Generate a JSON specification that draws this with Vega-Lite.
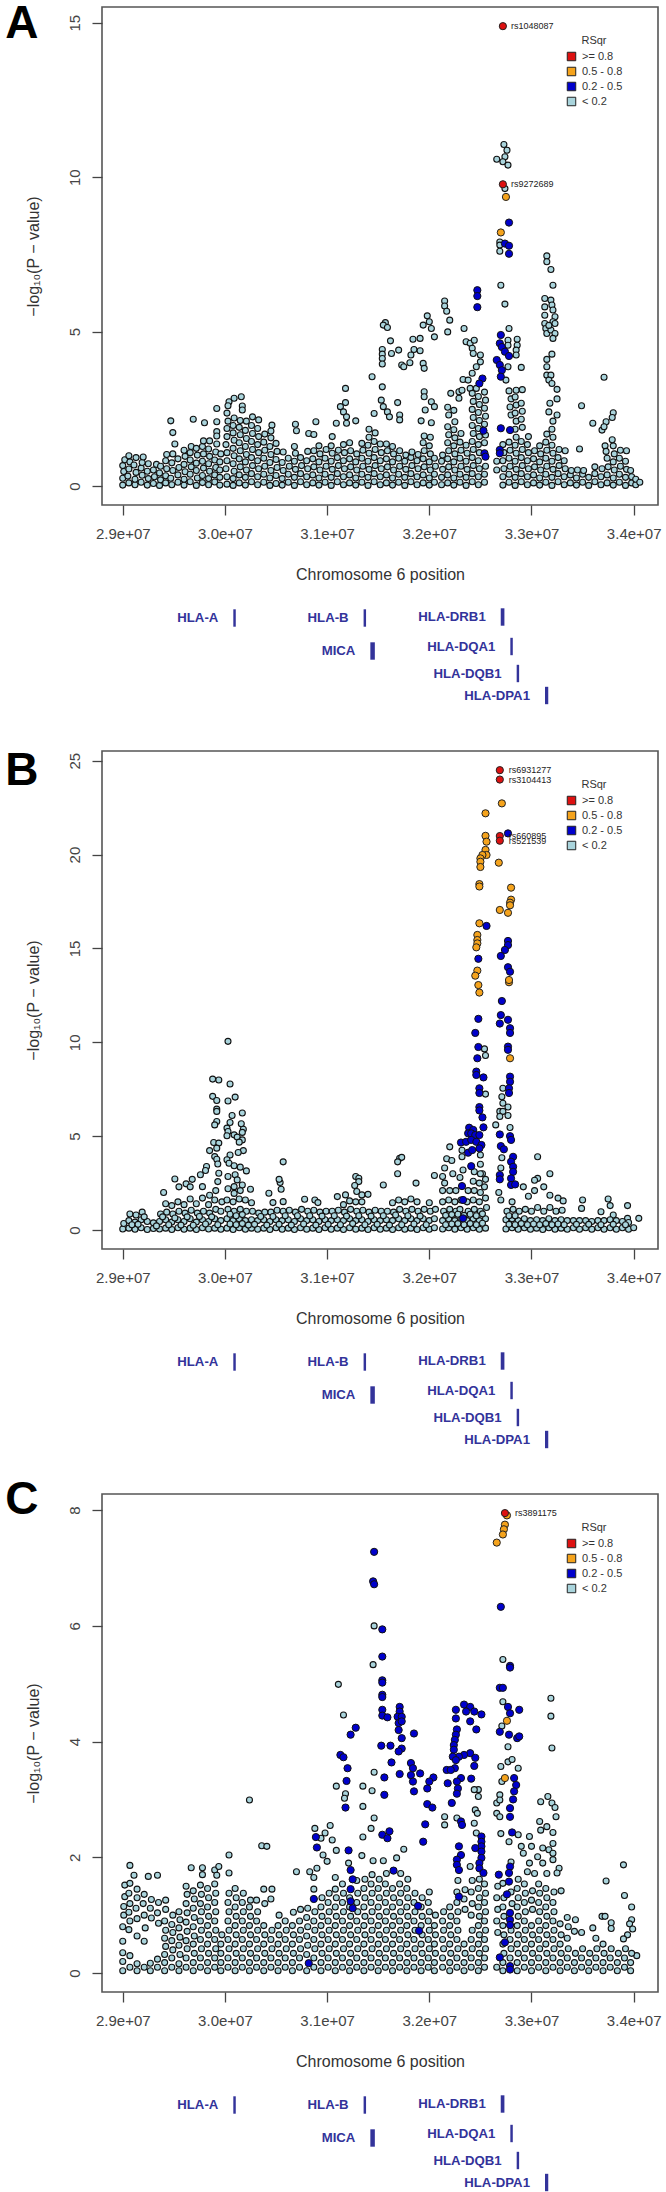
{"$schema":"https://vega.github.io/schema/vega-lite/v6.json","padding":{"left":4,"top":0,"right":0,"bottom":0},"background":"white","bounds":"flush","spacing":0,"config":{"font":"Liberation Sans","axis":{"grid":false,"domain":false,"tickSize":10,"tickWidth":1.3,"tickColor":"#444","labelColor":"#444","titleColor":"#333","labelFontSize":15,"titleFontSize":16,"titleFontWeight":"normal"}},"resolve":{"scale":{"color":"independent"},"legend":{"color":"independent"}},
"datasets":{
"genes":[{"g":"HLA-A","s":30.082,"e":30.106,"t":104.3,"b":121.7,"m":113},{"g":"HLA-B","s":31.357,"e":31.381,"t":104.3,"b":121.7,"m":113},{"g":"HLA-DRB1","s":32.699,"e":32.735,"t":103.3,"b":120.7,"m":112},{"g":"MICA","s":31.423,"e":31.467,"t":137.3,"b":154.7,"m":146},{"g":"HLA-DQA1","s":32.793,"e":32.817,"t":132.8,"b":150.2,"m":141.5},{"g":"HLA-DQB1","s":32.855,"e":32.879,"t":159.8,"b":177.2,"m":168.5},{"g":"HLA-DPA1","s":33.132,"e":33.164,"t":181.8,"b":199.2,"m":190.5}],
"aR":[{"x":32.72,"y":14.89,"id":"rs1048087"},{"x":32.72,"y":9.77,"id":"rs9272689"}],
"aO":[{"x":32.75,"y":9.36},{"x":32.70,"y":8.21}],
"aB":[{"x":32.78,"y":8.53},{"x":32.74,"y":7.85},{"x":32.78,"y":7.78},{"x":32.78,"y":7.52},{"x":32.47,"y":6.34},{"x":32.47,"y":6.15},{"x":32.47,"y":5.79},{"x":32.70,"y":4.89},{"x":32.69,"y":4.62},{"x":32.71,"y":4.5},{"x":32.74,"y":4.35},{"x":32.78,"y":4.21},{"x":32.66,"y":4.08},{"x":32.69,"y":3.92},{"x":32.71,"y":3.75},{"x":32.70,"y":3.54},{"x":32.52,"y":3.48},{"x":32.49,"y":3.32},{"x":32.53,"y":1.79},{"x":32.70,"y":1.87},{"x":32.79,"y":1.81},{"x":32.54,"y":1.06},{"x":32.55,"y":0.95},{"x":32.69,"y":1.17},{"x":32.69,"y":1.06}],
"aL":[{"x":32.73,"y":11.06},{"x":32.76,"y":10.87},{"x":32.66,"y":10.58},{"x":32.74,"y":10.66},{"x":32.72,"y":10.5},{"x":32.77,"y":10.39},{"x":32.69,"y":7.9},{"x":32.69,"y":7.8},{"x":32.69,"y":7.6},{"x":32.70,"y":6.5},{"x":32.74,"y":5.89},{"x":32.74,"y":9.63},{"x":33.15,"y":7.45},{"x":33.15,"y":7.26},{"x":33.19,"y":7.01},{"x":33.21,"y":6.5},{"x":33.13,"y":6.07},{"x":33.19,"y":6.02},{"x":33.2,"y":5.86},{"x":33.21,"y":5.7},{"x":33.23,"y":5.48},{"x":33.13,"y":5.8},{"x":33.13,"y":5.53},{"x":33.13,"y":5.26},{"x":33.21,"y":5.32},{"x":33.14,"y":5.1},{"x":33.15,"y":4.94},{"x":33.19,"y":5.05},{"x":33.23,"y":4.94},{"x":33.21,"y":4.78},{"x":33.17,"y":5.2},{"x":33.23,"y":5.26},{"x":33.2,"y":4.27},{"x":33.15,"y":4.1},{"x":33.15,"y":3.86},{"x":33.15,"y":3.59},{"x":33.19,"y":3.59},{"x":33.17,"y":3.43},{"x":33.2,"y":3.32},{"x":33.25,"y":3.13},{"x":33.25,"y":2.82},{"x":33.18,"y":2.68},{"x":33.17,"y":2.4},{"x":33.25,"y":2.3},{"x":33.71,"y":3.52},{"x":33.49,"y":2.6},{"x":33.6,"y":2.03},{"x":33.8,"y":2.37},{"x":33.79,"y":2.22},{"x":33.73,"y":2.08},{"x":33.69,"y":1.81},{"x":33.71,"y":1.92},{"x":32.78,"y":5.1},{"x":32.86,"y":4.75},{"x":32.86,"y":4.56},{"x":32.85,"y":4.4},{"x":32.85,"y":4.24},{"x":32.77,"y":4.72},{"x":32.77,"y":4.56},{"x":32.77,"y":3.86},{"x":32.9,"y":3.84},{"x":32.75,"y":3.43},{"x":31.18,"y":3.16},{"x":31.18,"y":2.7},{"x":31.13,"y":2.57},{"x":31.16,"y":2.4},{"x":31.19,"y":2.24},{"x":31.19,"y":2.03},{"x":31.28,"y":2.11},{"x":31.44,"y":3.54},{"x":31.54,"y":3.21},{"x":31.53,"y":2.78},{"x":31.55,"y":2.57},{"x":31.59,"y":2.4},{"x":31.61,"y":2.24},{"x":31.69,"y":2.7},{"x":31.71,"y":2.3},{"x":31.71,"y":2.14},{"x":31.46,"y":2.35},{"x":31.57,"y":5.29},{"x":31.55,"y":5.21},{"x":31.59,"y":5.13},{"x":31.54,"y":4.42},{"x":31.54,"y":4.27},{"x":31.54,"y":4.13},{"x":31.54,"y":3.95},{"x":31.62,"y":4.7},{"x":31.63,"y":4.29},{"x":31.7,"y":4.4},{"x":31.73,"y":3.92},{"x":31.75,"y":3.86},{"x":31.81,"y":3.99},{"x":31.82,"y":4.24},{"x":31.85,"y":4.42},{"x":31.84,"y":4.75},{"x":31.91,"y":4.78},{"x":31.91,"y":4.38},{"x":31.94,"y":3.97},{"x":31.95,"y":3.81},{"x":31.95,"y":3.05},{"x":31.95,"y":2.89},{"x":32.02,"y":2.73},{"x":32.05,"y":2.57},{"x":31.96,"y":2.46},{"x":31.92,"y":2.11},{"x":32.02,"y":2.05},{"x":31.98,"y":5.51},{"x":31.94,"y":5.21},{"x":32.0,"y":5.32},{"x":32.02,"y":5.1},{"x":32.05,"y":4.83},{"x":32.15,"y":5.99},{"x":32.15,"y":5.83},{"x":32.17,"y":5.66},{"x":32.2,"y":5.37},{"x":32.18,"y":4.99},{"x":32.34,"y":5.1},{"x":32.36,"y":4.67},{"x":32.4,"y":4.62},{"x":32.44,"y":4.72},{"x":32.42,"y":4.46},{"x":32.43,"y":4.29},{"x":32.5,"y":4.24},{"x":32.5,"y":4.02},{"x":32.46,"y":3.86},{"x":32.42,"y":3.65},{"x":32.33,"y":3.45},{"x":32.38,"y":3.43},{"x":32.4,"y":3.16},{"x":32.46,"y":3.16},{"x":32.21,"y":3.0},{"x":32.29,"y":3.05},{"x":32.29,"y":2.84},{"x":32.32,"y":3.1},{"x":29.47,"y":2.11},{"x":29.49,"y":1.73},{"x":29.51,"y":1.36},{"x":29.69,"y":2.16},{"x":29.8,"y":2.05},{"x":29.92,"y":2.51},{"x":29.92,"y":2.08},{"x":29.92,"y":1.76},{"x":30.04,"y":2.73},{"x":30.09,"y":2.84},{"x":30.16,"y":2.89},{"x":30.17,"y":2.59},{"x":30.17,"y":2.46},{"x":30.46,"y":1.97},{"x":30.69,"y":2.0},{"x":30.7,"y":1.79},{"x":30.82,"y":1.7},{"x":30.87,"y":1.67},{"x":30.89,"y":2.08},{"x":31.09,"y":2.03},{"x":31.05,"y":1.6},
{"x":29.0,"y":0.03},{"x":29.0,"y":0.25},{"x":29.01,"y":0.47},{"x":29.0,"y":0.66},{"x":29.02,"y":0.85},{"x":29.06,"y":0.1},{"x":29.05,"y":0.32},{"x":29.06,"y":0.55},{"x":29.07,"y":0.78},{"x":29.06,"y":0.98},{"x":29.12,"y":0.04},{"x":29.12,"y":0.22},{"x":29.13,"y":0.44},{"x":29.11,"y":0.68},{"x":29.13,"y":0.92},{"x":29.18,"y":0.12},{"x":29.19,"y":0.35},{"x":29.18,"y":0.58},{"x":29.19,"y":0.76},{"x":29.2,"y":0.94},{"x":29.24,"y":0.03},{"x":29.25,"y":0.24},{"x":29.24,"y":0.48},{"x":29.25,"y":0.72},{"x":29.3,"y":0.08},{"x":29.31,"y":0.3},{"x":29.3,"y":0.52},{"x":29.33,"y":0.7},{"x":29.36,"y":0.02},{"x":29.37,"y":0.2},{"x":29.36,"y":0.42},{"x":29.37,"y":0.64},{"x":29.42,"y":0.1},{"x":29.42,"y":0.33},{"x":29.43,"y":0.56},{"x":29.42,"y":0.82},{"x":29.43,"y":1.02},{"x":29.48,"y":0.04},{"x":29.47,"y":0.25},{"x":29.49,"y":0.5},{"x":29.48,"y":0.75},{"x":29.49,"y":1.04},{"x":29.54,"y":0.12},{"x":29.54,"y":0.36},{"x":29.55,"y":0.6},{"x":29.54,"y":0.88},{"x":29.6,"y":0.03},{"x":29.6,"y":0.22},{"x":29.61,"y":0.46},{"x":29.6,"y":0.7},{"x":29.61,"y":0.96},{"x":29.6,"y":1.16},{"x":29.66,"y":0.14},{"x":29.66,"y":0.38},{"x":29.67,"y":0.62},{"x":29.66,"y":0.84},{"x":29.66,"y":1.08},{"x":29.67,"y":1.28},{"x":29.72,"y":0.02},{"x":29.73,"y":0.26},{"x":29.72,"y":0.5},{"x":29.72,"y":0.74},{"x":29.73,"y":1.0},{"x":29.72,"y":1.22},{"x":29.78,"y":0.11},{"x":29.78,"y":0.34},{"x":29.79,"y":0.58},{"x":29.78,"y":0.8},{"x":29.79,"y":1.04},{"x":29.78,"y":1.28},{"x":29.79,"y":1.46},{"x":29.84,"y":0.04},{"x":29.84,"y":0.24},{"x":29.85,"y":0.48},{"x":29.84,"y":0.72},{"x":29.85,"y":0.96},{"x":29.84,"y":1.2},{"x":29.85,"y":1.46},{"x":29.9,"y":0.13},{"x":29.9,"y":0.36},{"x":29.91,"y":0.6},{"x":29.9,"y":0.84},{"x":29.91,"y":1.1},{"x":29.92,"y":1.36},{"x":29.92,"y":1.62},{"x":29.95,"y":0.03},{"x":29.95,"y":0.28},{"x":29.95,"y":0.52},{"x":29.95,"y":0.78},{"x":29.96,"y":1.04},{"x":30.02,"y":0.06},{"x":30.02,"y":0.3},{"x":30.01,"y":0.56},{"x":30.02,"y":0.82},{"x":30.02,"y":1.08},{"x":30.01,"y":1.34},{"x":30.02,"y":1.6},{"x":30.02,"y":1.86},{"x":30.03,"y":2.1},{"x":30.02,"y":2.36},{"x":30.03,"y":2.6},{"x":30.08,"y":0.02},{"x":30.08,"y":0.24},{"x":30.09,"y":0.48},{"x":30.08,"y":0.72},{"x":30.09,"y":0.98},{"x":30.08,"y":1.22},{"x":30.09,"y":1.48},{"x":30.08,"y":1.72},{"x":30.08,"y":1.96},{"x":30.09,"y":2.2},{"x":30.14,"y":0.1},{"x":30.14,"y":0.36},{"x":30.15,"y":0.62},{"x":30.14,"y":0.88},{"x":30.15,"y":1.14},{"x":30.14,"y":1.4},{"x":30.15,"y":1.66},{"x":30.14,"y":1.9},{"x":30.15,"y":2.12},{"x":30.2,"y":0.03},{"x":30.2,"y":0.28},{"x":30.21,"y":0.52},{"x":30.2,"y":0.78},{"x":30.21,"y":1.02},{"x":30.2,"y":1.28},{"x":30.21,"y":1.54},{"x":30.2,"y":1.8},{"x":30.21,"y":2.1},{"x":30.26,"y":0.14},{"x":30.26,"y":0.4},{"x":30.27,"y":0.66},{"x":30.26,"y":0.92},{"x":30.27,"y":1.18},{"x":30.26,"y":1.44},{"x":30.27,"y":1.7},{"x":30.26,"y":1.96},{"x":30.27,"y":2.24},{"x":30.32,"y":0.04},{"x":30.32,"y":0.3},{"x":30.33,"y":0.56},{"x":30.32,"y":0.82},{"x":30.33,"y":1.08},{"x":30.32,"y":1.34},{"x":30.33,"y":1.6},{"x":30.32,"y":1.86},{"x":30.33,"y":2.14},{"x":30.38,"y":0.12},{"x":30.38,"y":0.38},{"x":30.39,"y":0.64},{"x":30.38,"y":0.9},{"x":30.39,"y":1.16},{"x":30.38,"y":1.42},{"x":30.39,"y":1.68},{"x":30.44,"y":0.02},{"x":30.44,"y":0.26},{"x":30.45,"y":0.5},{"x":30.44,"y":0.76},{"x":30.45,"y":1.02},{"x":30.44,"y":1.28},{"x":30.45,"y":1.56},{"x":30.45,"y":1.78},{"x":30.5,"y":0.08},{"x":30.5,"y":0.34},{"x":30.51,"y":0.6},{"x":30.5,"y":0.86},{"x":30.51,"y":1.12},{"x":30.5,"y":1.38},{"x":30.56,"y":0.03},{"x":30.56,"y":0.24},{"x":30.57,"y":0.5},{"x":30.56,"y":0.76},{"x":30.57,"y":1.1},{"x":30.62,"y":0.12},{"x":30.62,"y":0.38},{"x":30.63,"y":0.64},{"x":30.62,"y":0.9},{"x":30.68,"y":0.02},{"x":30.68,"y":0.28},{"x":30.69,"y":0.54},{"x":30.68,"y":0.8},{"x":30.69,"y":1.06},{"x":30.68,"y":1.28},{"x":30.74,"y":0.14},{"x":30.74,"y":0.4},{"x":30.75,"y":0.66},{"x":30.74,"y":0.92},{"x":30.8,"y":0.04},{"x":30.8,"y":0.3},{"x":30.81,"y":0.56},{"x":30.8,"y":0.82},{"x":30.81,"y":1.12},{"x":30.86,"y":0.1},{"x":30.86,"y":0.36},{"x":30.87,"y":0.62},{"x":30.86,"y":0.88},{"x":30.87,"y":1.14},{"x":30.92,"y":0.03},{"x":30.92,"y":0.26},{"x":30.93,"y":0.52},{"x":30.92,"y":0.78},{"x":30.93,"y":1.04},{"x":30.92,"y":1.3},{"x":30.98,"y":0.12},{"x":30.98,"y":0.38},{"x":30.99,"y":0.64},{"x":30.98,"y":0.9},{"x":30.99,"y":1.18},{"x":31.04,"y":0.02},{"x":31.04,"y":0.28},{"x":31.05,"y":0.54},{"x":31.04,"y":0.8},{"x":31.05,"y":1.06},{"x":31.04,"y":1.3},{"x":31.1,"y":0.14},{"x":31.1,"y":0.4},{"x":31.11,"y":0.66},{"x":31.1,"y":0.92},{"x":31.11,"y":1.16},{"x":31.16,"y":0.04},{"x":31.16,"y":0.3},{"x":31.17,"y":0.56},{"x":31.16,"y":0.82},{"x":31.17,"y":1.08},{"x":31.16,"y":1.34},{"x":31.22,"y":0.1},{"x":31.22,"y":0.36},{"x":31.23,"y":0.62},{"x":31.22,"y":0.88},{"x":31.23,"y":1.14},{"x":31.22,"y":1.4},{"x":31.28,"y":0.03},{"x":31.28,"y":0.26},{"x":31.29,"y":0.52},{"x":31.28,"y":0.78},{"x":31.29,"y":1.04},{"x":31.34,"y":0.12},{"x":31.34,"y":0.38},{"x":31.35,"y":0.64},{"x":31.34,"y":0.9},{"x":31.35,"y":1.16},{"x":31.34,"y":1.38},{"x":31.4,"y":0.02},{"x":31.4,"y":0.28},{"x":31.41,"y":0.54},{"x":31.4,"y":0.8},{"x":31.41,"y":1.06},{"x":31.4,"y":1.32},{"x":31.41,"y":1.58},{"x":31.41,"y":1.84},{"x":31.46,"y":0.14},{"x":31.46,"y":0.4},{"x":31.47,"y":0.66},{"x":31.46,"y":0.92},{"x":31.47,"y":1.18},{"x":31.46,"y":1.44},{"x":31.47,"y":1.72},{"x":31.52,"y":0.04},{"x":31.52,"y":0.3},{"x":31.53,"y":0.56},{"x":31.52,"y":0.82},{"x":31.53,"y":1.08},{"x":31.52,"y":1.36},{"x":31.58,"y":0.1},{"x":31.58,"y":0.36},{"x":31.59,"y":0.62},{"x":31.58,"y":0.88},{"x":31.59,"y":1.14},{"x":31.58,"y":1.36},{"x":31.64,"y":0.03},{"x":31.64,"y":0.26},{"x":31.65,"y":0.52},{"x":31.64,"y":0.78},{"x":31.65,"y":1.04},{"x":31.64,"y":1.28},{"x":31.7,"y":0.12},{"x":31.7,"y":0.38},{"x":31.71,"y":0.64},{"x":31.7,"y":0.9},{"x":31.71,"y":1.14},{"x":31.76,"y":0.02},{"x":31.76,"y":0.28},{"x":31.77,"y":0.54},{"x":31.76,"y":0.8},{"x":31.77,"y":1.0},{"x":31.82,"y":0.14},{"x":31.82,"y":0.4},{"x":31.83,"y":0.66},{"x":31.82,"y":0.92},{"x":31.83,"y":1.1},{"x":31.88,"y":0.04},{"x":31.88,"y":0.3},{"x":31.89,"y":0.56},{"x":31.88,"y":0.82},{"x":31.89,"y":1.02},{"x":31.94,"y":0.1},{"x":31.94,"y":0.36},{"x":31.95,"y":0.62},{"x":31.94,"y":0.88},{"x":31.95,"y":1.14},{"x":31.94,"y":1.4},{"x":31.95,"y":1.62},{"x":32.0,"y":0.03},{"x":32.0,"y":0.26},{"x":32.01,"y":0.52},{"x":32.0,"y":0.78},{"x":32.01,"y":1.04},{"x":32.0,"y":1.3},{"x":32.01,"y":1.58},{"x":32.05,"y":0.12},{"x":32.05,"y":0.38},{"x":32.06,"y":0.64},{"x":32.05,"y":0.9},{"x":32.12,"y":0.04},{"x":32.12,"y":0.28},{"x":32.13,"y":0.54},{"x":32.12,"y":0.8},{"x":32.13,"y":1.0},{"x":32.18,"y":0.1},{"x":32.18,"y":0.36},{"x":32.19,"y":0.62},{"x":32.18,"y":0.88},{"x":32.19,"y":1.14},{"x":32.18,"y":1.4},{"x":32.19,"y":1.66},{"x":32.18,"y":1.92},{"x":32.19,"y":2.3},{"x":32.18,"y":2.55},{"x":32.24,"y":0.03},{"x":32.24,"y":0.26},{"x":32.25,"y":0.52},{"x":32.24,"y":0.78},{"x":32.25,"y":1.04},{"x":32.24,"y":1.3},{"x":32.25,"y":1.56},{"x":32.24,"y":1.82},{"x":32.25,"y":2.08},{"x":32.24,"y":2.45},{"x":32.3,"y":0.12},{"x":32.3,"y":0.38},{"x":32.31,"y":0.64},{"x":32.3,"y":0.9},{"x":32.31,"y":1.16},{"x":32.3,"y":1.42},{"x":32.31,"y":1.7},{"x":32.36,"y":0.02},{"x":32.36,"y":0.28},{"x":32.37,"y":0.54},{"x":32.36,"y":0.8},{"x":32.37,"y":1.06},{"x":32.36,"y":1.32},{"x":32.42,"y":0.14},{"x":32.42,"y":0.4},{"x":32.43,"y":0.66},{"x":32.42,"y":0.92},{"x":32.43,"y":1.18},{"x":32.42,"y":1.44},{"x":32.43,"y":1.7},{"x":32.42,"y":1.96},{"x":32.43,"y":2.22},{"x":32.42,"y":2.48},{"x":32.43,"y":2.74},{"x":32.42,"y":3.0},{"x":32.48,"y":0.04},{"x":32.48,"y":0.3},{"x":32.49,"y":0.56},{"x":32.48,"y":0.82},{"x":32.49,"y":1.08},{"x":32.48,"y":1.34},{"x":32.49,"y":1.6},{"x":32.48,"y":1.86},{"x":32.49,"y":2.12},{"x":32.48,"y":2.38},{"x":32.49,"y":2.64},{"x":32.48,"y":2.9},{"x":32.54,"y":0.12},{"x":32.54,"y":0.38},{"x":32.55,"y":0.64},{"x":32.54,"y":1.4},{"x":32.55,"y":1.65},{"x":32.54,"y":2.0},{"x":32.55,"y":2.26},{"x":32.54,"y":2.52},{"x":32.55,"y":2.78},{"x":32.54,"y":3.04},{"x":32.66,"y":0.52},{"x":32.66,"y":0.8},{"x":32.72,"y":0.03},{"x":32.72,"y":0.3},{"x":32.73,"y":0.56},{"x":32.72,"y":0.82},{"x":32.73,"y":1.08},{"x":32.72,"y":1.34},{"x":32.78,"y":0.12},{"x":32.78,"y":0.38},{"x":32.79,"y":0.64},{"x":32.78,"y":0.9},{"x":32.79,"y":1.16},{"x":32.78,"y":1.42},{"x":32.8,"y":2.3},{"x":32.79,"y":2.56},{"x":32.8,"y":2.82},{"x":32.78,"y":3.08},{"x":32.84,"y":0.02},{"x":32.84,"y":0.28},{"x":32.85,"y":0.54},{"x":32.84,"y":0.8},{"x":32.85,"y":1.06},{"x":32.84,"y":1.32},{"x":32.85,"y":1.58},{"x":32.84,"y":1.84},{"x":32.85,"y":2.1},{"x":32.84,"y":2.36},{"x":32.85,"y":2.62},{"x":32.84,"y":2.88},{"x":32.85,"y":3.1},{"x":32.9,"y":0.14},{"x":32.9,"y":0.4},{"x":32.91,"y":0.66},{"x":32.9,"y":0.92},{"x":32.91,"y":1.18},{"x":32.9,"y":1.44},{"x":32.91,"y":1.9},{"x":32.9,"y":2.16},{"x":32.91,"y":2.42},{"x":32.9,"y":2.68},{"x":32.91,"y":3.12},{"x":32.96,"y":0.04},{"x":32.96,"y":0.3},{"x":32.97,"y":0.56},{"x":32.96,"y":0.82},{"x":32.97,"y":1.08},{"x":32.96,"y":1.34},{"x":32.97,"y":1.6},{"x":33.02,"y":0.1},{"x":33.02,"y":0.36},{"x":33.03,"y":0.62},{"x":33.02,"y":0.88},{"x":33.03,"y":1.14},{"x":33.08,"y":0.03},{"x":33.08,"y":0.26},{"x":33.09,"y":0.52},{"x":33.08,"y":0.78},{"x":33.09,"y":1.04},{"x":33.08,"y":1.3},{"x":33.14,"y":0.12},{"x":33.14,"y":0.38},{"x":33.15,"y":0.64},{"x":33.14,"y":0.9},{"x":33.15,"y":1.16},{"x":33.14,"y":1.42},{"x":33.15,"y":1.68},{"x":33.2,"y":0.02},{"x":33.2,"y":0.28},{"x":33.21,"y":0.54},{"x":33.2,"y":0.8},{"x":33.21,"y":1.06},{"x":33.2,"y":1.32},{"x":33.21,"y":1.58},{"x":33.2,"y":1.84},{"x":33.21,"y":2.1},{"x":33.26,"y":0.14},{"x":33.26,"y":0.4},{"x":33.27,"y":0.66},{"x":33.26,"y":0.92},{"x":33.27,"y":1.18},{"x":33.32,"y":0.04},{"x":33.32,"y":0.3},{"x":33.33,"y":0.56},{"x":33.32,"y":0.82},{"x":33.33,"y":1.14},{"x":33.38,"y":0.1},{"x":33.38,"y":0.36},{"x":33.39,"y":0.5},{"x":33.44,"y":0.03},{"x":33.44,"y":0.26},{"x":33.45,"y":0.52},{"x":33.47,"y":1.2},{"x":33.5,"y":0.12},{"x":33.5,"y":0.38},{"x":33.51,"y":0.5},{"x":33.56,"y":0.02},{"x":33.56,"y":0.28},{"x":33.62,"y":0.14},{"x":33.62,"y":0.4},{"x":33.62,"y":0.62},{"x":33.68,"y":0.04},{"x":33.68,"y":0.3},{"x":33.69,"y":0.56},{"x":33.72,"y":1.3},{"x":33.74,"y":0.1},{"x":33.74,"y":0.36},{"x":33.75,"y":0.62},{"x":33.74,"y":0.9},{"x":33.73,"y":1.12},{"x":33.8,"y":0.03},{"x":33.8,"y":0.26},{"x":33.81,"y":0.52},{"x":33.8,"y":0.78},{"x":33.81,"y":1.04},{"x":33.8,"y":1.3},{"x":33.79,"y":1.5},{"x":33.86,"y":0.12},{"x":33.86,"y":0.38},{"x":33.87,"y":0.64},{"x":33.86,"y":0.9},{"x":33.87,"y":1.16},{"x":33.92,"y":0.02},{"x":33.92,"y":0.28},{"x":33.93,"y":0.54},{"x":33.92,"y":0.8},{"x":33.93,"y":1.14},{"x":33.98,"y":0.1},{"x":33.98,"y":0.3},{"x":33.97,"y":0.5},{"x":34.02,"y":0.04},{"x":34.02,"y":0.22},{"x":34.06,"y":0.12}],
"bR":[{"x":32.69,"y":24.5,"id":"rs6931277"},{"x":32.69,"y":24.0,"id":"rs3104413"},{"x":32.69,"y":20.99,"id":"rs660895"},{"x":32.69,"y":20.74,"id":"rs521539"}],
"bO":[{"x":32.71,"y":22.73},{"x":32.55,"y":22.2},{"x":32.55,"y":21.0},{"x":32.56,"y":20.69},{"x":32.55,"y":20.25},{"x":32.56,"y":19.98},{"x":32.52,"y":19.98},{"x":32.5,"y":19.8},{"x":32.5,"y":19.62},{"x":32.5,"y":19.34},{"x":32.68,"y":19.57},{"x":32.49,"y":18.43},{"x":32.49,"y":18.3},{"x":32.8,"y":18.24},{"x":32.8,"y":17.6},{"x":32.69,"y":17.05},{"x":32.77,"y":16.9},{"x":32.79,"y":17.44},{"x":32.79,"y":17.3},{"x":32.49,"y":16.34},{"x":32.47,"y":15.72},{"x":32.47,"y":15.45},{"x":32.47,"y":15.27},{"x":32.46,"y":15.06},{"x":32.47,"y":13.82},{"x":32.45,"y":13.55},{"x":32.48,"y":13.05},{"x":32.49,"y":12.65},{"x":32.78,"y":13.2},{"x":32.78,"y":13.32},{"x":32.79,"y":9.15}],
"bB":[{"x":32.77,"y":21.13},{"x":32.56,"y":16.2},{"x":32.77,"y":15.4},{"x":32.77,"y":15.18},{"x":32.74,"y":14.92},{"x":32.7,"y":14.6},{"x":32.48,"y":14.45},{"x":32.77,"y":14.0},{"x":32.79,"y":13.76},{"x":32.71,"y":12.2},{"x":32.7,"y":11.45},{"x":32.77,"y":11.2},{"x":32.69,"y":11.0},{"x":32.79,"y":10.75},{"x":32.79,"y":10.5},{"x":32.48,"y":11.25},{"x":32.45,"y":10.5},{"x":32.48,"y":9.75},{"x":32.77,"y":9.77},{"x":32.77,"y":9.6},{"x":32.47,"y":9.15},{"x":32.46,"y":8.44},{"x":32.46,"y":8.26},{"x":32.53,"y":8.13},{"x":32.49,"y":7.55},{"x":32.49,"y":7.3},{"x":32.79,"y":8.17},{"x":32.79,"y":7.9},{"x":32.78,"y":7.55},{"x":32.78,"y":7.3},{"x":32.49,"y":6.55},{"x":32.49,"y":6.37},{"x":32.52,"y":6.0},{"x":32.53,"y":5.47},{"x":32.39,"y":5.45},{"x":32.43,"y":5.33},{"x":32.38,"y":5.15},{"x":32.41,"y":5.15},{"x":32.45,"y":5.06},{"x":32.49,"y":5.06},{"x":32.31,"y":4.66},{"x":32.36,"y":4.7},{"x":32.41,"y":4.8},{"x":32.46,"y":4.7},{"x":32.51,"y":4.53},{"x":32.38,"y":4.12},{"x":32.42,"y":4.26},{"x":32.49,"y":4.35},{"x":32.41,"y":3.4},{"x":32.32,"y":2.34},{"x":32.33,"y":1.6},{"x":32.33,"y":0.62},{"x":32.69,"y":5.09},{"x":32.79,"y":5.0},{"x":32.8,"y":4.8},{"x":32.7,"y":4.47},{"x":32.73,"y":4.3},{"x":32.82,"y":3.9},{"x":32.8,"y":3.64},{"x":32.82,"y":3.37},{"x":32.82,"y":3.1},{"x":32.69,"y":2.93},{"x":32.69,"y":2.7},{"x":32.8,"y":2.75},{"x":32.8,"y":2.4},{"x":32.84,"y":2.43}],
"bL":[{"x":30.03,"y":10.05},{"x":29.88,"y":8.04},{"x":29.94,"y":7.99},{"x":30.05,"y":7.78},{"x":29.88,"y":7.12},{"x":29.92,"y":6.9},{"x":30.03,"y":6.87},{"x":30.1,"y":7.08},{"x":29.92,"y":6.44},{"x":29.92,"y":6.32},{"x":30.07,"y":6.1},{"x":30.17,"y":6.23},{"x":29.92,"y":5.78},{"x":29.9,"y":5.6},{"x":30.05,"y":5.73},{"x":30.16,"y":5.66},{"x":30.18,"y":5.37},{"x":30.02,"y":5.43},{"x":30.03,"y":5.25},{"x":30.17,"y":5.2},{"x":30.02,"y":5.02},{"x":30.09,"y":5.07},{"x":30.12,"y":4.95},{"x":30.17,"y":4.8},{"x":30.14,"y":4.68},{"x":29.89,"y":4.66},{"x":29.94,"y":4.63},{"x":29.92,"y":4.36},{"x":29.85,"y":4.23},{"x":30.18,"y":4.23},{"x":30.13,"y":4.13},{"x":30.05,"y":4.0},{"x":29.9,"y":3.91},{"x":29.92,"y":3.77},{"x":30.02,"y":3.74},{"x":29.93,"y":3.52},{"x":30.04,"y":3.56},{"x":30.09,"y":3.42},{"x":29.82,"y":3.38},{"x":29.81,"y":3.17},{"x":30.15,"y":3.35},{"x":30.21,"y":3.15},{"x":29.76,"y":2.94},{"x":29.94,"y":3.02},{"x":30.03,"y":2.85},{"x":30.1,"y":2.94},{"x":30.12,"y":2.67},{"x":29.68,"y":2.7},{"x":29.62,"y":2.46},{"x":29.51,"y":2.72},{"x":29.55,"y":2.3},{"x":29.4,"y":2.0},{"x":29.66,"y":2.3},{"x":29.78,"y":2.31},{"x":29.93,"y":2.58},{"x":30.17,"y":2.4},{"x":30.25,"y":2.17},{"x":30.09,"y":2.31},{"x":30.57,"y":3.63},{"x":30.54,"y":2.53},{"x":30.53,"y":2.7},{"x":30.55,"y":2.17},{"x":30.43,"y":1.96},{"x":30.78,"y":1.64},{"x":30.88,"y":1.6},{"x":30.91,"y":1.46},{"x":30.57,"y":1.51},{"x":30.47,"y":1.46},{"x":31.28,"y":2.85},{"x":31.31,"y":2.76},{"x":31.31,"y":2.58},{"x":31.27,"y":2.37},{"x":31.29,"y":2.05},{"x":31.18,"y":1.87},{"x":31.1,"y":1.78},{"x":31.34,"y":1.87},{"x":32.54,"y":9.65},{"x":32.55,"y":9.3},{"x":32.55,"y":7.24},{"x":32.72,"y":7.55},{"x":32.71,"y":7.1},{"x":32.72,"y":6.75},{"x":32.77,"y":6.55},{"x":32.69,"y":6.32},{"x":32.72,"y":6.32},{"x":32.77,"y":6.1},{"x":32.69,"y":6.05},{"x":32.65,"y":5.6},{"x":32.79,"y":5.46},{"x":32.2,"y":4.43},{"x":32.17,"y":3.8},{"x":32.22,"y":3.7},{"x":32.32,"y":4.25},{"x":32.32,"y":3.9},{"x":32.15,"y":3.3},{"x":32.23,"y":3.0},{"x":32.33,"y":3.2},{"x":32.13,"y":2.85},{"x":32.15,"y":2.5},{"x":32.5,"y":4.0},{"x":32.5,"y":3.5},{"x":32.52,"y":3.0},{"x":32.55,"y":2.7},{"x":32.54,"y":2.3},{"x":32.71,"y":3.85},{"x":32.7,"y":3.3},{"x":33.06,"y":3.9},{"x":33.18,"y":3.0},{"x":33.06,"y":2.75},{"x":33.03,"y":2.65},{"x":33.12,"y":2.3},{"x":33.03,"y":2.1},{"x":32.92,"y":2.3},{"x":32.97,"y":1.8},{"x":33.18,"y":1.85},{"x":33.26,"y":1.7},{"x":33.31,"y":1.55},{"x":33.5,"y":1.6},{"x":33.49,"y":1.15},{"x":33.75,"y":1.65},{"x":33.77,"y":1.3},{"x":33.94,"y":1.3},{"x":33.68,"y":0.97},{"x":33.8,"y":0.8},{"x":34.05,"y":0.62},{"x":33.94,"y":0.62},{"x":31.71,"y":3.82},{"x":31.73,"y":3.87},{"x":31.69,"y":3.63},{"x":31.69,"y":3.0},{"x":31.55,"y":2.4},{"x":31.87,"y":2.5},{"x":32.05,"y":2.9},{"x":31.4,"y":1.9},
{"x":29.0,"y":0.05},{"x":29.01,"y":0.35},{"x":29.06,"y":0.1},{"x":29.06,"y":0.5},{"x":29.07,"y":0.85},{"x":29.12,"y":0.04},{"x":29.12,"y":0.42},{"x":29.13,"y":0.8},{"x":29.18,"y":0.12},{"x":29.18,"y":0.55},{"x":29.19,"y":0.95},{"x":29.24,"y":0.03},{"x":29.24,"y":0.45},{"x":29.3,"y":0.08},{"x":29.3,"y":0.38},{"x":29.36,"y":0.05},{"x":29.36,"y":0.45},{"x":29.37,"y":0.85},{"x":29.42,"y":0.1},{"x":29.42,"y":0.55},{"x":29.43,"y":0.95},{"x":29.42,"y":1.4},{"x":29.48,"y":0.03},{"x":29.48,"y":0.42},{"x":29.49,"y":0.85},{"x":29.48,"y":1.3},{"x":29.54,"y":0.12},{"x":29.54,"y":0.55},{"x":29.55,"y":1.0},{"x":29.54,"y":1.5},{"x":29.6,"y":0.04},{"x":29.6,"y":0.45},{"x":29.61,"y":0.9},{"x":29.6,"y":1.35},{"x":29.66,"y":0.1},{"x":29.66,"y":0.6},{"x":29.67,"y":1.05},{"x":29.66,"y":1.65},{"x":29.72,"y":0.03},{"x":29.72,"y":0.42},{"x":29.73,"y":0.9},{"x":29.72,"y":1.4},{"x":29.78,"y":0.12},{"x":29.78,"y":0.55},{"x":29.79,"y":1.0},{"x":29.78,"y":1.7},{"x":29.84,"y":0.05},{"x":29.84,"y":0.45},{"x":29.85,"y":0.9},{"x":29.84,"y":1.35},{"x":29.85,"y":1.85},{"x":29.9,"y":0.1},{"x":29.9,"y":0.6},{"x":29.91,"y":1.1},{"x":29.9,"y":1.6},{"x":29.91,"y":2.1},{"x":29.96,"y":0.04},{"x":29.96,"y":0.5},{"x":29.96,"y":1.0},{"x":29.97,"y":1.5},{"x":30.02,"y":0.1},{"x":30.02,"y":0.6},{"x":30.03,"y":1.1},{"x":30.02,"y":1.6},{"x":30.03,"y":2.2},{"x":30.08,"y":0.03},{"x":30.08,"y":0.5},{"x":30.09,"y":1.0},{"x":30.08,"y":1.5},{"x":30.09,"y":1.95},{"x":30.14,"y":0.12},{"x":30.14,"y":0.6},{"x":30.15,"y":1.1},{"x":30.14,"y":1.65},{"x":30.15,"y":2.1},{"x":30.2,"y":0.04},{"x":30.2,"y":0.5},{"x":30.21,"y":1.0},{"x":30.2,"y":1.6},{"x":30.26,"y":0.1},{"x":30.26,"y":0.55},{"x":30.27,"y":1.0},{"x":30.26,"y":1.45},{"x":30.32,"y":0.04},{"x":30.32,"y":0.5},{"x":30.33,"y":0.9},{"x":30.38,"y":0.1},{"x":30.38,"y":0.55},{"x":30.39,"y":0.95},{"x":30.44,"y":0.03},{"x":30.44,"y":0.45},{"x":30.45,"y":0.95},{"x":30.5,"y":0.12},{"x":30.5,"y":0.55},{"x":30.51,"y":1.05},{"x":30.56,"y":0.04},{"x":30.56,"y":0.5},{"x":30.57,"y":1.0},{"x":30.62,"y":0.1},{"x":30.62,"y":0.55},{"x":30.63,"y":1.05},{"x":30.68,"y":0.03},{"x":30.68,"y":0.45},{"x":30.69,"y":0.95},{"x":30.74,"y":0.12},{"x":30.74,"y":0.6},{"x":30.75,"y":1.1},{"x":30.8,"y":0.04},{"x":30.8,"y":0.5},{"x":30.81,"y":1.0},{"x":30.86,"y":0.1},{"x":30.86,"y":0.55},{"x":30.87,"y":1.05},{"x":30.92,"y":0.03},{"x":30.92,"y":0.45},{"x":30.93,"y":0.95},{"x":30.98,"y":0.12},{"x":30.98,"y":0.55},{"x":30.99,"y":1.0},{"x":31.04,"y":0.04},{"x":31.04,"y":0.5},{"x":31.05,"y":1.0},{"x":31.1,"y":0.1},{"x":31.1,"y":0.55},{"x":31.11,"y":1.05},{"x":31.16,"y":0.03},{"x":31.16,"y":0.5},{"x":31.17,"y":0.95},{"x":31.16,"y":1.35},{"x":31.22,"y":0.12},{"x":31.22,"y":0.6},{"x":31.23,"y":1.1},{"x":31.22,"y":1.55},{"x":31.28,"y":0.04},{"x":31.28,"y":0.5},{"x":31.29,"y":1.0},{"x":31.28,"y":1.5},{"x":31.34,"y":0.1},{"x":31.34,"y":0.55},{"x":31.35,"y":1.05},{"x":31.34,"y":1.5},{"x":31.4,"y":0.03},{"x":31.4,"y":0.45},{"x":31.41,"y":0.95},{"x":31.46,"y":0.12},{"x":31.46,"y":0.55},{"x":31.47,"y":1.05},{"x":31.52,"y":0.04},{"x":31.52,"y":0.5},{"x":31.53,"y":1.0},{"x":31.58,"y":0.1},{"x":31.58,"y":0.55},{"x":31.59,"y":1.0},{"x":31.64,"y":0.03},{"x":31.64,"y":0.5},{"x":31.65,"y":0.95},{"x":31.64,"y":1.45},{"x":31.7,"y":0.12},{"x":31.7,"y":0.6},{"x":31.71,"y":1.1},{"x":31.7,"y":1.6},{"x":31.76,"y":0.04},{"x":31.76,"y":0.5},{"x":31.77,"y":1.0},{"x":31.76,"y":1.5},{"x":31.82,"y":0.1},{"x":31.82,"y":0.6},{"x":31.83,"y":1.1},{"x":31.82,"y":1.65},{"x":31.88,"y":0.03},{"x":31.88,"y":0.5},{"x":31.89,"y":1.0},{"x":31.88,"y":1.5},{"x":31.94,"y":0.12},{"x":31.94,"y":0.6},{"x":31.95,"y":1.1},{"x":32.0,"y":0.04},{"x":32.0,"y":0.5},{"x":32.01,"y":1.0},{"x":32.0,"y":1.45},{"x":32.05,"y":0.12},{"x":32.05,"y":0.6},{"x":32.06,"y":1.1},{"x":32.13,"y":0.05},{"x":32.13,"y":0.5},{"x":32.14,"y":1.0},{"x":32.13,"y":1.5},{"x":32.13,"y":2.1},{"x":32.19,"y":0.12},{"x":32.19,"y":0.6},{"x":32.2,"y":1.1},{"x":32.19,"y":1.6},{"x":32.2,"y":2.1},{"x":32.25,"y":0.04},{"x":32.25,"y":0.5},{"x":32.26,"y":1.0},{"x":32.25,"y":1.5},{"x":32.26,"y":2.1},{"x":32.31,"y":0.12},{"x":32.31,"y":0.6},{"x":32.3,"y":1.1},{"x":32.31,"y":1.6},{"x":32.3,"y":2.8},{"x":32.37,"y":0.04},{"x":32.37,"y":0.5},{"x":32.38,"y":1.0},{"x":32.37,"y":1.5},{"x":32.38,"y":2.1},{"x":32.43,"y":0.12},{"x":32.43,"y":0.6},{"x":32.44,"y":1.1},{"x":32.43,"y":1.6},{"x":32.44,"y":2.1},{"x":32.43,"y":2.6},{"x":32.44,"y":3.1},{"x":32.49,"y":0.04},{"x":32.49,"y":0.5},{"x":32.5,"y":1.0},{"x":32.49,"y":1.5},{"x":32.5,"y":2.0},{"x":32.49,"y":2.5},{"x":32.5,"y":3.0},{"x":32.55,"y":0.1},{"x":32.55,"y":0.6},{"x":32.56,"y":1.2},{"x":32.55,"y":1.7},{"x":32.75,"y":0.05},{"x":32.75,"y":0.55},{"x":32.76,"y":1.0},{"x":32.7,"y":1.6},{"x":32.68,"y":2.0},{"x":32.81,"y":0.12},{"x":32.81,"y":0.6},{"x":32.82,"y":1.1},{"x":32.81,"y":1.5},{"x":32.87,"y":0.04},{"x":32.87,"y":0.5},{"x":32.88,"y":1.0},{"x":32.93,"y":0.12},{"x":32.93,"y":0.6},{"x":32.94,"y":1.1},{"x":32.99,"y":0.04},{"x":32.99,"y":0.5},{"x":33.0,"y":1.0},{"x":33.05,"y":0.1},{"x":33.05,"y":0.55},{"x":33.06,"y":1.2},{"x":33.11,"y":0.03},{"x":33.11,"y":0.5},{"x":33.12,"y":1.0},{"x":33.17,"y":0.12},{"x":33.17,"y":0.6},{"x":33.18,"y":1.2},{"x":33.23,"y":0.04},{"x":33.23,"y":0.5},{"x":33.24,"y":1.0},{"x":33.29,"y":0.1},{"x":33.29,"y":0.55},{"x":33.3,"y":1.05},{"x":33.35,"y":0.04},{"x":33.35,"y":0.5},{"x":33.41,"y":0.12},{"x":33.41,"y":0.5},{"x":33.47,"y":0.04},{"x":33.47,"y":0.5},{"x":33.53,"y":0.12},{"x":33.53,"y":0.5},{"x":33.59,"y":0.04},{"x":33.59,"y":0.45},{"x":33.65,"y":0.12},{"x":33.65,"y":0.5},{"x":33.71,"y":0.04},{"x":33.71,"y":0.5},{"x":33.77,"y":0.12},{"x":33.77,"y":0.55},{"x":33.83,"y":0.04},{"x":33.83,"y":0.5},{"x":33.89,"y":0.12},{"x":33.89,"y":0.45},{"x":33.95,"y":0.04},{"x":33.95,"y":0.4},{"x":34.0,"y":0.12},
{"x":29.09,"y":0.28},{"x":29.15,"y":0.3},{"x":29.21,"y":0.7},{"x":29.33,"y":0.22},{"x":29.39,"y":0.7},{"x":29.45,"y":0.28},{"x":29.51,"y":0.64},{"x":29.57,"y":0.26},{"x":29.63,"y":0.7},{"x":29.69,"y":0.25},{"x":29.75,"y":0.72},{"x":29.81,"y":0.32},{"x":29.87,"y":0.7},{"x":29.93,"y":0.28},{"x":30.05,"y":0.32},{"x":30.05,"y":0.84},{"x":30.11,"y":0.28},{"x":30.11,"y":0.76},{"x":30.17,"y":0.34},{"x":30.17,"y":0.82},{"x":30.23,"y":0.26},{"x":30.29,"y":0.3},{"x":30.35,"y":0.72},{"x":30.41,"y":0.26},{"x":30.47,"y":0.72},{"x":30.53,"y":0.3},{"x":30.59,"y":0.76},{"x":30.65,"y":0.26},{"x":30.71,"y":0.76},{"x":30.77,"y":0.32},{"x":30.83,"y":0.76},{"x":30.89,"y":0.26},{"x":30.95,"y":0.74},{"x":31.01,"y":0.3},{"x":31.07,"y":0.76},{"x":31.13,"y":0.28},{"x":31.19,"y":0.74},{"x":31.25,"y":0.34},{"x":31.31,"y":0.76},{"x":31.37,"y":0.28},{"x":31.43,"y":0.74},{"x":31.49,"y":0.3},{"x":31.55,"y":0.76},{"x":31.61,"y":0.26},{"x":31.67,"y":0.8},{"x":31.73,"y":0.28},{"x":31.79,"y":0.76},{"x":31.85,"y":0.32},{"x":31.91,"y":0.74},{"x":31.97,"y":0.28},{"x":32.16,"y":0.28},{"x":32.16,"y":0.78},{"x":32.22,"y":0.32},{"x":32.22,"y":0.82},{"x":32.28,"y":0.34},{"x":32.28,"y":0.84},{"x":32.34,"y":0.28},{"x":32.34,"y":0.78},{"x":32.4,"y":0.34},{"x":32.4,"y":0.84},{"x":32.46,"y":0.28},{"x":32.46,"y":0.76},{"x":32.52,"y":0.36},{"x":32.52,"y":0.86},{"x":32.78,"y":0.3},{"x":32.78,"y":0.76},{"x":32.84,"y":0.28},{"x":32.84,"y":0.76},{"x":32.9,"y":0.34},{"x":32.96,"y":0.28},{"x":33.02,"y":0.32},{"x":33.08,"y":0.28},{"x":33.14,"y":0.34},{"x":33.2,"y":0.28},{"x":33.26,"y":0.32},{"x":33.32,"y":0.28},{"x":33.44,"y":0.3},{"x":33.56,"y":0.3},{"x":33.68,"y":0.28},{"x":33.8,"y":0.3},{"x":33.92,"y":0.28}],
"cR":[{"x":32.74,"y":7.95,"id":"rs3891175"}],
"cO":[{"x":32.76,"y":7.91},{"x":32.74,"y":7.75},{"x":32.73,"y":7.67},{"x":32.72,"y":7.58},{"x":32.66,"y":7.44},{"x":32.76,"y":4.36},{"x":32.74,"y":3.37}],
"cB":[{"x":31.46,"y":7.28},{"x":31.45,"y":6.77},{"x":31.46,"y":6.72},{"x":32.7,"y":6.33},{"x":31.54,"y":5.94},{"x":31.54,"y":5.47},{"x":32.79,"y":5.31},{"x":32.79,"y":5.28},{"x":31.54,"y":5.06},{"x":31.54,"y":5.02},{"x":32.69,"y":4.93},{"x":32.72,"y":4.93},{"x":31.54,"y":4.81},{"x":31.54,"y":4.77},{"x":32.34,"y":4.64},{"x":31.71,"y":4.6},{"x":32.26,"y":4.55},{"x":32.4,"y":4.6},{"x":32.77,"y":4.6},{"x":31.54,"y":4.55},{"x":31.71,"y":4.52},{"x":32.88,"y":4.55},{"x":32.36,"y":4.52},{"x":32.44,"y":4.52},{"x":32.51,"y":4.47},{"x":32.79,"y":4.49},{"x":31.54,"y":4.45},{"x":31.59,"y":4.42},{"x":31.69,"y":4.43},{"x":31.73,"y":4.43},{"x":32.26,"y":4.4},{"x":32.4,"y":4.35},{"x":31.7,"y":4.32},{"x":31.73,"y":4.35},{"x":31.28,"y":4.24},{"x":32.27,"y":4.21},{"x":31.7,"y":4.2},{"x":32.46,"y":4.21},{"x":31.23,"y":4.12},{"x":32.26,"y":4.12},{"x":32.69,"y":4.17},{"x":31.85,"y":4.14},{"x":32.78,"y":4.12},{"x":32.86,"y":4.06},{"x":32.88,"y":4.09},{"x":31.73,"y":4.06},{"x":32.25,"y":4.03},{"x":32.24,"y":3.94},{"x":31.53,"y":3.93},{"x":31.62,"y":3.93},{"x":31.73,"y":3.88},{"x":31.7,"y":3.83},{"x":32.24,"y":3.86},{"x":32.4,"y":3.8},{"x":32.34,"y":3.77},{"x":32.29,"y":3.74},{"x":32.23,"y":3.74},{"x":31.13,"y":3.77},{"x":31.16,"y":3.73},{"x":32.45,"y":3.72},{"x":32.26,"y":3.68},{"x":31.63,"y":3.64},{"x":31.82,"y":3.63},{"x":32.44,"y":3.58},{"x":31.2,"y":3.54},{"x":32.25,"y":3.54},{"x":32.17,"y":3.51},{"x":31.84,"y":3.54},{"x":32.21,"y":3.51},{"x":31.71,"y":3.44},{"x":31.82,"y":3.42},{"x":31.91,"y":3.45},{"x":31.56,"y":3.38},{"x":32.04,"y":3.38},{"x":32.31,"y":3.37},{"x":32.41,"y":3.36},{"x":32.83,"y":3.37},{"x":31.19,"y":3.32},{"x":31.84,"y":3.31},{"x":32.0,"y":3.31},{"x":32.18,"y":3.28},{"x":32.27,"y":3.31},{"x":32.85,"y":3.25},{"x":31.98,"y":3.19},{"x":32.28,"y":3.19},{"x":31.85,"y":3.14},{"x":32.27,"y":3.1},{"x":31.56,"y":3.08},{"x":32.83,"y":3.14},{"x":32.82,"y":3.0},{"x":31.98,"y":2.92},{"x":32.22,"y":2.94},{"x":32.79,"y":2.85},{"x":32.03,"y":2.86},{"x":31.18,"y":2.86},{"x":32.79,"y":2.7},{"x":31.96,"y":2.57},{"x":32.31,"y":2.62},{"x":32.32,"y":2.56},{"x":32.81,"y":2.43},{"x":31.61,"y":2.45},{"x":31.54,"y":2.39},{"x":30.89,"y":2.35},{"x":31.59,"y":2.33},{"x":32.51,"y":2.36},{"x":32.51,"y":2.27},{"x":31.94,"y":2.27},{"x":32.51,"y":2.19},{"x":30.9,"y":2.17},{"x":32.29,"y":2.19},{"x":32.45,"y":2.16},{"x":31.21,"y":2.12},{"x":32.51,"y":2.1},{"x":32.31,"y":2.04},{"x":32.27,"y":1.96},{"x":32.51,"y":1.99},{"x":32.27,"y":1.87},{"x":32.49,"y":1.9},{"x":32.29,"y":1.78},{"x":31.65,"y":1.77},{"x":31.23,"y":1.78},{"x":32.49,"y":1.81},{"x":32.53,"y":1.73},{"x":32.68,"y":1.7},{"x":32.79,"y":1.84},{"x":32.78,"y":1.73},{"x":31.25,"y":1.62},{"x":32.78,"y":1.58},{"x":31.23,"y":1.45},{"x":32.76,"y":1.36},{"x":32.29,"y":1.32},{"x":30.87,"y":1.28},{"x":31.23,"y":1.24},{"x":31.25,"y":1.12},{"x":31.89,"y":1.16},{"x":32.79,"y":1.04},{"x":32.79,"y":0.92},{"x":32.79,"y":0.83},{"x":31.9,"y":0.73},{"x":32.74,"y":0.53},{"x":32.69,"y":0.27},{"x":30.82,"y":0.17},{"x":32.79,"y":0.12},{"x":32.79,"y":0.06}],
"cL":[{"x":30.24,"y":2.99},{"x":30.36,"y":2.2},{"x":30.41,"y":2.19},{"x":30.04,"y":2.04},{"x":29.07,"y":1.86},{"x":29.11,"y":1.69},{"x":29.25,"y":1.67},{"x":29.34,"y":1.69},{"x":29.67,"y":1.82},{"x":29.78,"y":1.82},{"x":29.78,"y":1.7},{"x":29.9,"y":1.78},{"x":29.94,"y":1.84},{"x":29.92,"y":1.69},{"x":30.04,"y":1.73},{"x":30.7,"y":1.75},{"x":30.88,"y":2.5},{"x":31.03,"y":2.55},{"x":30.98,"y":2.42},{"x":30.94,"y":2.33},{"x":31.05,"y":2.3},{"x":31.09,"y":2.12},{"x":30.96,"y":2.04},{"x":31.0,"y":1.93},{"x":30.9,"y":1.81},{"x":30.83,"y":1.75},{"x":31.16,"y":4.46},{"x":31.11,"y":4.99},{"x":31.45,"y":5.33},{"x":31.46,"y":6.0},{"x":31.46,"y":3.47},{"x":31.09,"y":3.23},{"x":31.35,"y":3.23},{"x":31.44,"y":3.15},{"x":31.18,"y":3.1},{"x":31.17,"y":3.02},{"x":31.35,"y":2.88},{"x":31.46,"y":2.68},{"x":31.43,"y":2.5},{"x":31.35,"y":2.35},{"x":31.75,"y":2.14},{"x":31.68,"y":1.99},{"x":31.55,"y":1.94},{"x":31.34,"y":2.03},{"x":31.45,"y":1.94},{"x":32.15,"y":2.7},{"x":32.15,"y":2.56},{"x":32.27,"y":2.68},{"x":32.44,"y":2.59},{"x":32.45,"y":2.82},{"x":32.48,"y":3.17},{"x":32.44,"y":3.17},{"x":32.48,"y":3.05},{"x":32.47,"y":2.76},{"x":32.46,"y":2.42},{"x":32.4,"y":1.84},{"x":32.72,"y":5.42},{"x":32.72,"y":4.69},{"x":33.19,"y":4.75},{"x":33.19,"y":4.44},{"x":33.2,"y":3.89},{"x":32.71,"y":4.27},{"x":32.77,"y":3.91},{"x":32.77,"y":3.65},{"x":32.81,"y":3.69},{"x":32.7,"y":3.57},{"x":32.87,"y":3.54},{"x":32.71,"y":3.31},{"x":32.69,"y":3.08},{"x":32.66,"y":2.94},{"x":32.69,"y":2.99},{"x":32.66,"y":2.76},{"x":32.69,"y":2.7},{"x":32.7,"y":2.41},{"x":32.78,"y":2.27},{"x":32.87,"y":2.39},{"x":32.98,"y":2.36},{"x":33.09,"y":2.96},{"x":33.16,"y":3.05},{"x":33.2,"y":2.94},{"x":33.23,"y":2.86},{"x":33.24,"y":2.7},{"x":33.08,"y":2.62},{"x":33.15,"y":2.53},{"x":33.09,"y":2.47},{"x":33.21,"y":2.43},{"x":33.21,"y":2.24},{"x":33.11,"y":2.16},{"x":33.17,"y":2.13},{"x":33.0,"y":2.19},{"x":32.9,"y":2.19},{"x":32.92,"y":2.07},{"x":33.21,"y":2.07},{"x":33.06,"y":2.01},{"x":32.98,"y":1.9},{"x":33.11,"y":1.9},{"x":33.21,"y":1.96},{"x":33.27,"y":1.81},{"x":33.25,"y":1.73},{"x":32.96,"y":1.75},{"x":33.03,"y":1.72},{"x":33.15,"y":1.72},{"x":33.9,"y":1.87},{"x":33.73,"y":1.59},{"x":33.91,"y":1.34},{"x":33.98,"y":1.14},{"x":33.29,"y":1.42},{"x":33.98,"y":0.92},{"x":33.96,"y":0.85},{"x":33.99,"y":0.76},{"x":33.94,"y":0.66},{"x":33.9,"y":0.59},{"x":33.69,"y":0.98},{"x":33.72,"y":0.98},{"x":33.78,"y":0.87},{"x":33.78,"y":0.77},{"x":34.03,"y":0.3},
{"x":29.0,"y":0.04},{"x":29.0,"y":0.2},{"x":29.0,"y":0.35},{"x":29.0,"y":0.55},{"x":29.0,"y":0.8},{"x":29.01,"y":1.0},{"x":29.01,"y":1.15},{"x":29.02,"y":1.32},{"x":29.02,"y":1.52},{"x":29.07,"y":0.1},{"x":29.07,"y":0.3},{"x":29.06,"y":0.75},{"x":29.07,"y":0.9},{"x":29.06,"y":1.05},{"x":29.07,"y":1.2},{"x":29.06,"y":1.38},{"x":29.07,"y":1.55},{"x":29.14,"y":0.04},{"x":29.14,"y":0.16},{"x":29.14,"y":0.64},{"x":29.14,"y":0.94},{"x":29.13,"y":1.12},{"x":29.14,"y":1.3},{"x":29.14,"y":1.45},{"x":29.21,"y":0.1},{"x":29.21,"y":0.55},{"x":29.22,"y":0.78},{"x":29.21,"y":1.0},{"x":29.2,"y":1.2},{"x":29.21,"y":1.36},{"x":29.27,"y":0.04},{"x":29.27,"y":0.17},{"x":29.28,"y":0.95},{"x":29.27,"y":1.12},{"x":29.28,"y":1.27},{"x":29.34,"y":0.1},{"x":29.34,"y":0.24},{"x":29.35,"y":0.86},{"x":29.34,"y":1.04},{"x":29.35,"y":1.22},{"x":29.41,"y":0.04},{"x":29.41,"y":0.18},{"x":29.41,"y":0.32},{"x":29.42,"y":0.46},{"x":29.41,"y":0.6},{"x":29.42,"y":0.74},{"x":29.41,"y":0.9},{"x":29.42,"y":1.1},{"x":29.42,"y":1.26},{"x":29.48,"y":0.1},{"x":29.48,"y":0.26},{"x":29.49,"y":0.4},{"x":29.48,"y":0.56},{"x":29.49,"y":0.7},{"x":29.48,"y":0.84},{"x":29.49,"y":1.0},{"x":29.55,"y":0.04},{"x":29.55,"y":0.16},{"x":29.56,"y":0.32},{"x":29.55,"y":0.48},{"x":29.56,"y":0.62},{"x":29.55,"y":0.78},{"x":29.56,"y":0.92},{"x":29.55,"y":1.06},{"x":29.62,"y":0.1},{"x":29.62,"y":0.26},{"x":29.63,"y":0.42},{"x":29.62,"y":0.56},{"x":29.63,"y":0.72},{"x":29.62,"y":0.88},{"x":29.63,"y":1.04},{"x":29.62,"y":1.2},{"x":29.63,"y":1.36},{"x":29.62,"y":1.5},{"x":29.69,"y":0.04},{"x":29.69,"y":0.18},{"x":29.7,"y":0.34},{"x":29.69,"y":0.5},{"x":29.7,"y":0.64},{"x":29.69,"y":0.8},{"x":29.7,"y":0.96},{"x":29.69,"y":1.12},{"x":29.7,"y":1.28},{"x":29.69,"y":1.42},{"x":29.76,"y":0.1},{"x":29.76,"y":0.26},{"x":29.77,"y":0.42},{"x":29.76,"y":0.58},{"x":29.77,"y":0.74},{"x":29.76,"y":0.9},{"x":29.77,"y":1.06},{"x":29.76,"y":1.2},{"x":29.77,"y":1.36},{"x":29.76,"y":1.52},{"x":29.83,"y":0.04},{"x":29.83,"y":0.18},{"x":29.84,"y":0.34},{"x":29.83,"y":0.5},{"x":29.84,"y":0.66},{"x":29.83,"y":0.82},{"x":29.84,"y":0.98},{"x":29.83,"y":1.14},{"x":29.84,"y":1.3},{"x":29.83,"y":1.46},{"x":29.9,"y":0.1},{"x":29.9,"y":0.26},{"x":29.91,"y":0.42},{"x":29.9,"y":0.58},{"x":29.91,"y":0.74},{"x":29.9,"y":0.9},{"x":29.91,"y":1.06},{"x":29.9,"y":1.22},{"x":29.91,"y":1.38},{"x":29.9,"y":1.54},{"x":29.96,"y":0.04},{"x":29.96,"y":0.18},{"x":29.96,"y":0.34},{"x":29.96,"y":0.5},{"x":29.97,"y":0.66},{"x":30.03,"y":0.1},{"x":30.03,"y":0.26},{"x":30.04,"y":0.42},{"x":30.03,"y":0.58},{"x":30.04,"y":0.74},{"x":30.03,"y":0.9},{"x":30.04,"y":1.06},{"x":30.03,"y":1.22},{"x":30.04,"y":1.38},{"x":30.1,"y":0.04},{"x":30.1,"y":0.18},{"x":30.11,"y":0.34},{"x":30.1,"y":0.5},{"x":30.11,"y":0.66},{"x":30.1,"y":0.82},{"x":30.11,"y":0.98},{"x":30.1,"y":1.14},{"x":30.11,"y":1.3},{"x":30.1,"y":1.46},{"x":30.17,"y":0.1},{"x":30.17,"y":0.26},{"x":30.18,"y":0.42},{"x":30.17,"y":0.58},{"x":30.18,"y":0.74},{"x":30.17,"y":0.9},{"x":30.18,"y":1.06},{"x":30.17,"y":1.22},{"x":30.18,"y":1.38},{"x":30.24,"y":0.04},{"x":30.24,"y":0.18},{"x":30.25,"y":0.34},{"x":30.24,"y":0.5},{"x":30.25,"y":0.66},{"x":30.24,"y":0.82},{"x":30.25,"y":0.98},{"x":30.24,"y":1.14},{"x":30.25,"y":1.26},{"x":30.31,"y":0.1},{"x":30.31,"y":0.26},{"x":30.32,"y":0.42},{"x":30.31,"y":0.58},{"x":30.32,"y":0.74},{"x":30.31,"y":0.9},{"x":30.32,"y":1.06},{"x":30.31,"y":1.26},{"x":30.38,"y":0.04},{"x":30.38,"y":0.18},{"x":30.39,"y":0.34},{"x":30.38,"y":0.5},{"x":30.39,"y":0.66},{"x":30.38,"y":0.82},{"x":30.39,"y":1.2},{"x":30.38,"y":1.45},{"x":30.45,"y":0.1},{"x":30.45,"y":0.26},{"x":30.46,"y":0.42},{"x":30.45,"y":0.58},{"x":30.46,"y":0.74},{"x":30.45,"y":1.28},{"x":30.46,"y":1.45},{"x":30.52,"y":0.04},{"x":30.52,"y":0.18},{"x":30.53,"y":0.34},{"x":30.52,"y":0.5},{"x":30.53,"y":0.66},{"x":30.52,"y":0.82},{"x":30.53,"y":1.0},{"x":30.59,"y":0.1},{"x":30.59,"y":0.26},{"x":30.6,"y":0.42},{"x":30.59,"y":0.58},{"x":30.6,"y":0.74},{"x":30.59,"y":0.9},{"x":30.66,"y":0.04},{"x":30.66,"y":0.18},{"x":30.67,"y":0.34},{"x":30.66,"y":0.5},{"x":30.67,"y":0.66},{"x":30.66,"y":0.82},{"x":30.67,"y":1.05},{"x":30.73,"y":0.1},{"x":30.73,"y":0.26},{"x":30.74,"y":0.42},{"x":30.73,"y":0.58},{"x":30.74,"y":0.74},{"x":30.73,"y":0.9},{"x":30.74,"y":1.1},{"x":30.8,"y":0.04},{"x":30.8,"y":0.32},{"x":30.81,"y":0.48},{"x":30.8,"y":0.64},{"x":30.81,"y":0.8},{"x":30.8,"y":0.96},{"x":30.81,"y":1.12},{"x":30.87,"y":0.1},{"x":30.87,"y":0.26},{"x":30.88,"y":0.42},{"x":30.87,"y":0.58},{"x":30.88,"y":0.74},{"x":30.87,"y":0.9},{"x":30.88,"y":1.06},{"x":30.87,"y":1.45},{"x":30.87,"y":1.65},{"x":30.94,"y":0.04},{"x":30.94,"y":0.18},{"x":30.95,"y":0.34},{"x":30.94,"y":0.5},{"x":30.95,"y":0.66},{"x":30.94,"y":0.82},{"x":30.95,"y":0.98},{"x":30.94,"y":1.14},{"x":30.95,"y":1.3},{"x":31.01,"y":0.1},{"x":31.01,"y":0.26},{"x":31.02,"y":0.42},{"x":31.01,"y":0.58},{"x":31.02,"y":0.74},{"x":31.01,"y":0.9},{"x":31.02,"y":1.06},{"x":31.01,"y":1.22},{"x":31.02,"y":1.38},{"x":31.08,"y":0.04},{"x":31.08,"y":0.18},{"x":31.09,"y":0.34},{"x":31.08,"y":0.5},{"x":31.09,"y":0.66},{"x":31.08,"y":0.82},{"x":31.09,"y":0.98},{"x":31.08,"y":1.14},{"x":31.09,"y":1.3},{"x":31.08,"y":1.45},{"x":31.08,"y":1.65},{"x":31.15,"y":0.1},{"x":31.15,"y":0.26},{"x":31.16,"y":0.42},{"x":31.15,"y":0.58},{"x":31.16,"y":0.74},{"x":31.15,"y":0.9},{"x":31.16,"y":1.06},{"x":31.15,"y":1.22},{"x":31.16,"y":1.38},{"x":31.15,"y":1.54},{"x":31.22,"y":0.04},{"x":31.22,"y":0.18},{"x":31.23,"y":0.34},{"x":31.22,"y":0.5},{"x":31.23,"y":0.66},{"x":31.22,"y":0.82},{"x":31.23,"y":0.98},{"x":31.22,"y":1.14},{"x":31.22,"y":1.3},{"x":31.21,"y":1.9},{"x":31.29,"y":0.1},{"x":31.29,"y":0.26},{"x":31.3,"y":0.42},{"x":31.29,"y":0.58},{"x":31.3,"y":0.74},{"x":31.29,"y":0.9},{"x":31.3,"y":1.06},{"x":31.29,"y":1.22},{"x":31.3,"y":1.38},{"x":31.29,"y":1.6},{"x":31.36,"y":0.04},{"x":31.36,"y":0.18},{"x":31.37,"y":0.34},{"x":31.36,"y":0.5},{"x":31.37,"y":0.66},{"x":31.36,"y":0.82},{"x":31.37,"y":0.98},{"x":31.36,"y":1.14},{"x":31.37,"y":1.3},{"x":31.36,"y":1.46},{"x":31.37,"y":1.62},{"x":31.43,"y":0.1},{"x":31.43,"y":0.26},{"x":31.44,"y":0.42},{"x":31.43,"y":0.58},{"x":31.44,"y":0.74},{"x":31.43,"y":0.9},{"x":31.44,"y":1.06},{"x":31.43,"y":1.22},{"x":31.44,"y":1.38},{"x":31.43,"y":1.54},{"x":31.44,"y":1.7},{"x":31.5,"y":0.04},{"x":31.5,"y":0.18},{"x":31.51,"y":0.34},{"x":31.5,"y":0.5},{"x":31.51,"y":0.66},{"x":31.5,"y":0.82},{"x":31.51,"y":0.98},{"x":31.5,"y":1.14},{"x":31.51,"y":1.3},{"x":31.5,"y":1.46},{"x":31.51,"y":1.62},{"x":31.57,"y":0.1},{"x":31.57,"y":0.26},{"x":31.58,"y":0.42},{"x":31.57,"y":0.58},{"x":31.58,"y":0.74},{"x":31.57,"y":0.9},{"x":31.58,"y":1.06},{"x":31.57,"y":1.22},{"x":31.58,"y":1.38},{"x":31.57,"y":1.54},{"x":31.58,"y":1.72},{"x":31.64,"y":0.04},{"x":31.64,"y":0.18},{"x":31.65,"y":0.34},{"x":31.64,"y":0.5},{"x":31.65,"y":0.66},{"x":31.64,"y":0.82},{"x":31.65,"y":0.98},{"x":31.64,"y":1.14},{"x":31.65,"y":1.3},{"x":31.64,"y":1.46},{"x":31.71,"y":0.1},{"x":31.71,"y":0.26},{"x":31.72,"y":0.42},{"x":31.71,"y":0.58},{"x":31.72,"y":0.74},{"x":31.71,"y":0.9},{"x":31.72,"y":1.06},{"x":31.71,"y":1.22},{"x":31.72,"y":1.38},{"x":31.71,"y":1.54},{"x":31.72,"y":1.72},{"x":31.78,"y":0.04},{"x":31.78,"y":0.18},{"x":31.79,"y":0.34},{"x":31.78,"y":0.5},{"x":31.79,"y":0.66},{"x":31.78,"y":0.82},{"x":31.79,"y":0.98},{"x":31.78,"y":1.14},{"x":31.79,"y":1.3},{"x":31.78,"y":1.46},{"x":31.79,"y":1.62},{"x":31.85,"y":0.1},{"x":31.85,"y":0.26},{"x":31.86,"y":0.42},{"x":31.85,"y":0.58},{"x":31.86,"y":0.74},{"x":31.85,"y":0.9},{"x":31.86,"y":1.06},{"x":31.85,"y":1.22},{"x":31.86,"y":1.38},{"x":31.92,"y":0.04},{"x":31.92,"y":0.18},{"x":31.93,"y":0.34},{"x":31.92,"y":0.5},{"x":31.93,"y":0.66},{"x":31.92,"y":0.82},{"x":31.93,"y":0.98},{"x":31.92,"y":1.14},{"x":31.93,"y":1.3},{"x":31.99,"y":0.1},{"x":31.99,"y":0.26},{"x":32.0,"y":0.42},{"x":31.99,"y":0.58},{"x":32.0,"y":0.74},{"x":31.99,"y":0.9},{"x":32.0,"y":1.06},{"x":31.99,"y":1.22},{"x":32.0,"y":1.4},{"x":32.05,"y":0.04},{"x":32.05,"y":0.18},{"x":32.06,"y":0.34},{"x":32.05,"y":0.5},{"x":32.06,"y":0.66},{"x":32.05,"y":0.82},{"x":32.06,"y":1.0},{"x":32.13,"y":0.1},{"x":32.13,"y":0.26},{"x":32.14,"y":0.42},{"x":32.13,"y":0.58},{"x":32.14,"y":0.74},{"x":32.13,"y":0.9},{"x":32.14,"y":1.06},{"x":32.2,"y":0.04},{"x":32.2,"y":0.18},{"x":32.21,"y":0.34},{"x":32.2,"y":0.5},{"x":32.21,"y":0.66},{"x":32.2,"y":0.82},{"x":32.21,"y":0.98},{"x":32.2,"y":1.14},{"x":32.27,"y":0.1},{"x":32.27,"y":0.26},{"x":32.28,"y":0.42},{"x":32.27,"y":0.58},{"x":32.28,"y":0.74},{"x":32.27,"y":0.9},{"x":32.28,"y":1.06},{"x":32.27,"y":1.22},{"x":32.27,"y":1.4},{"x":32.28,"y":1.6},{"x":32.34,"y":0.04},{"x":32.34,"y":0.18},{"x":32.35,"y":0.34},{"x":32.34,"y":0.5},{"x":32.35,"y":1.1},{"x":32.34,"y":1.28},{"x":32.35,"y":1.44},{"x":32.41,"y":0.1},{"x":32.41,"y":0.26},{"x":32.42,"y":0.42},{"x":32.41,"y":0.58},{"x":32.42,"y":0.74},{"x":32.41,"y":1.0},{"x":32.42,"y":1.2},{"x":32.41,"y":1.4},{"x":32.42,"y":1.6},{"x":32.48,"y":0.04},{"x":32.48,"y":0.18},{"x":32.49,"y":0.34},{"x":32.48,"y":0.5},{"x":32.49,"y":0.66},{"x":32.48,"y":0.82},{"x":32.49,"y":0.98},{"x":32.48,"y":1.14},{"x":32.49,"y":1.3},{"x":32.48,"y":1.46},{"x":32.49,"y":1.62},{"x":32.54,"y":0.1},{"x":32.54,"y":0.26},{"x":32.55,"y":0.42},{"x":32.54,"y":0.58},{"x":32.55,"y":0.74},{"x":32.54,"y":0.9},{"x":32.55,"y":1.06},{"x":32.54,"y":1.22},{"x":32.55,"y":1.38},{"x":32.54,"y":1.54},{"x":32.66,"y":0.1},{"x":32.67,"y":0.7},{"x":32.66,"y":0.9},{"x":32.67,"y":1.1},{"x":32.66,"y":1.3},{"x":32.67,"y":1.5},{"x":32.72,"y":0.04},{"x":32.72,"y":0.18},{"x":32.73,"y":0.34},{"x":32.72,"y":0.5},{"x":32.73,"y":0.66},{"x":32.72,"y":0.82},{"x":32.73,"y":0.98},{"x":32.72,"y":1.14},{"x":32.73,"y":1.3},{"x":32.72,"y":1.55},{"x":32.79,"y":0.26},{"x":32.8,"y":0.42},{"x":32.79,"y":0.58},{"x":32.8,"y":0.74},{"x":32.81,"y":1.2},{"x":32.8,"y":1.4},{"x":32.8,"y":1.92},{"x":32.86,"y":0.04},{"x":32.86,"y":0.18},{"x":32.87,"y":0.34},{"x":32.86,"y":0.5},{"x":32.87,"y":0.66},{"x":32.86,"y":0.82},{"x":32.87,"y":0.98},{"x":32.86,"y":1.14},{"x":32.87,"y":1.3},{"x":32.86,"y":1.46},{"x":32.87,"y":1.62},{"x":32.93,"y":0.1},{"x":32.93,"y":0.26},{"x":32.94,"y":0.42},{"x":32.93,"y":0.58},{"x":32.94,"y":0.74},{"x":32.93,"y":0.9},{"x":32.94,"y":1.06},{"x":32.93,"y":1.22},{"x":32.94,"y":1.38},{"x":32.93,"y":1.54},{"x":33.0,"y":0.04},{"x":33.0,"y":0.18},{"x":33.01,"y":0.34},{"x":33.0,"y":0.5},{"x":33.01,"y":0.66},{"x":33.0,"y":0.82},{"x":33.01,"y":1.1},{"x":33.0,"y":1.26},{"x":33.01,"y":1.42},{"x":33.07,"y":0.1},{"x":33.07,"y":0.26},{"x":33.08,"y":0.42},{"x":33.07,"y":0.58},{"x":33.08,"y":0.74},{"x":33.07,"y":0.9},{"x":33.08,"y":1.06},{"x":33.07,"y":1.22},{"x":33.08,"y":1.38},{"x":33.07,"y":1.54},{"x":33.14,"y":0.04},{"x":33.14,"y":0.18},{"x":33.15,"y":0.34},{"x":33.14,"y":0.5},{"x":33.15,"y":0.66},{"x":33.14,"y":0.82},{"x":33.15,"y":0.98},{"x":33.14,"y":1.14},{"x":33.15,"y":1.3},{"x":33.14,"y":1.46},{"x":33.21,"y":0.1},{"x":33.21,"y":0.26},{"x":33.22,"y":0.42},{"x":33.21,"y":0.58},{"x":33.22,"y":0.74},{"x":33.21,"y":0.9},{"x":33.22,"y":1.06},{"x":33.21,"y":1.22},{"x":33.22,"y":1.4},{"x":33.28,"y":0.04},{"x":33.28,"y":0.18},{"x":33.29,"y":0.34},{"x":33.28,"y":0.5},{"x":33.29,"y":0.66},{"x":33.28,"y":0.85},{"x":33.35,"y":0.1},{"x":33.35,"y":0.26},{"x":33.36,"y":0.42},{"x":33.35,"y":0.6},{"x":33.36,"y":0.8},{"x":33.35,"y":0.96},{"x":33.42,"y":0.04},{"x":33.42,"y":0.18},{"x":33.43,"y":0.34},{"x":33.42,"y":0.72},{"x":33.43,"y":0.92},{"x":33.49,"y":0.1},{"x":33.49,"y":0.26},{"x":33.5,"y":0.42},{"x":33.49,"y":0.7},{"x":33.56,"y":0.04},{"x":33.56,"y":0.18},{"x":33.57,"y":0.34},{"x":33.6,"y":0.78},{"x":33.63,"y":0.1},{"x":33.63,"y":0.26},{"x":33.64,"y":0.42},{"x":33.63,"y":0.6},{"x":33.7,"y":0.04},{"x":33.7,"y":0.18},{"x":33.71,"y":0.34},{"x":33.7,"y":0.5},{"x":33.77,"y":0.1},{"x":33.77,"y":0.26},{"x":33.78,"y":0.42},{"x":33.84,"y":0.04},{"x":33.84,"y":0.18},{"x":33.85,"y":0.34},{"x":33.91,"y":0.1},{"x":33.91,"y":0.26},{"x":33.92,"y":0.42},{"x":33.97,"y":0.04},{"x":33.97,"y":0.18},{"x":33.98,"y":0.34}]
},
"vconcat":[
{"width":556,"height":498,"view":{"stroke":"#555","strokeWidth":1.6},"encoding":{"x":{"field":"x","type":"quantitative","scale":{"domain":[28.797,34.238],"nice":false,"zero":false},"axis":{"values":[29,30,31,32,33,34],"labelExpr":"format(datum.value/10,'.1f')+'e+07'","labelPadding":11,"title":"Chromosome 6 position","titleY":69,"titleBaseline":"middle"}},"y":{"field":"y","type":"quantitative","scale":{"domain":[-0.615,15.51],"nice":false,"zero":false},"axis":{"values":[0,5,10,15],"labelAngle":-90,"labelAlign":"center","labelBaseline":"bottom","labelPadding":10,"title":"−log₁₀(P − value)","titleX":-69,"titleBaseline":"middle"}},"color":{"datum":"< 0.2","scale":{"domain":[">= 0.8","0.5 - 0.8","0.2 - 0.5","< 0.2"],"range":["#DD1111","#F5A31C","#0000CC","#A9D4DC"]},"legend":{"orient":"none","legendX":464,"legendY":28,"title":"RSqr","symbolType":"square","symbolSize":72,"symbolStrokeColor":"#222","symbolStrokeWidth":1,"labelFontSize":11,"titleFontSize":11,"titleFontWeight":"normal","titleColor":"#333","labelColor":"#333","rowPadding":2,"labelOffset":5,"titlePadding":5,"titleAnchor":"middle"}}},"layer":[
{"data":{"name":"aL"},"mark":{"type":"circle","size":36,"opacity":1,"stroke":"#111","strokeWidth":1.1}},
{"data":{"name":"aB"},"mark":{"type":"circle","size":52,"opacity":1,"stroke":"#111","strokeWidth":1},"encoding":{"color":{"datum":"0.2 - 0.5"}}},
{"data":{"name":"aO"},"mark":{"type":"circle","size":52,"opacity":1,"stroke":"#222","strokeWidth":1},"encoding":{"color":{"datum":"0.5 - 0.8"}}},
{"data":{"name":"aR"},"mark":{"type":"circle","size":52,"opacity":1,"stroke":"#222","strokeWidth":1},"encoding":{"color":{"datum":">= 0.8"}}},
{"data":{"name":"aR"},"mark":{"type":"text","align":"left","dx":8,"fontSize":9,"color":"#222"},"encoding":{"text":{"field":"id"},"color":{"value":"#222"}}},
{"data":{"values":[{"label":"A","x":27.85,"y":14.96}]},"mark":{"type":"text","align":"left","baseline":"middle","fontSize":46,"fontWeight":"bold"},"encoding":{"text":{"field":"label"},"color":{"value":"black"}}}
]},
{"width":556,"height":246,"view":{"stroke":null},"data":{"name":"genes"},"encoding":{"x":{"field":"s","type":"quantitative","scale":{"domain":[28.797,34.238],"nice":false,"zero":false},"axis":null}},"layer":[
{"mark":{"type":"rect","color":"#33339A"},"encoding":{"x2":{"field":"e"},"y":{"field":"t","type":"quantitative","scale":{"domain":[0,246],"reverse":true,"nice":false},"axis":null},"y2":{"field":"b"}}},
{"mark":{"type":"text","align":"right","dx":-15,"fontSize":13.2,"fontWeight":"bold","color":"#33339A"},"encoding":{"y":{"field":"m","type":"quantitative","scale":{"domain":[0,246],"reverse":true,"nice":false},"axis":null},"text":{"field":"g"}}}
]},
{"width":556,"height":498,"view":{"stroke":"#555","strokeWidth":1.6},"encoding":{"x":{"field":"x","type":"quantitative","scale":{"domain":[28.797,34.238],"nice":false,"zero":false},"axis":{"values":[29,30,31,32,33,34],"labelExpr":"format(datum.value/10,'.1f')+'e+07'","labelPadding":11,"title":"Chromosome 6 position","titleY":69,"titleBaseline":"middle"}},"y":{"field":"y","type":"quantitative","scale":{"domain":[-1.012,25.52],"nice":false,"zero":false},"axis":{"values":[0,5,10,15,20,25],"labelAngle":-90,"labelAlign":"center","labelBaseline":"bottom","labelPadding":10,"title":"−log₁₀(P − value)","titleX":-69,"titleBaseline":"middle"}},"color":{"datum":"< 0.2","scale":{"domain":[">= 0.8","0.5 - 0.8","0.2 - 0.5","< 0.2"],"range":["#DD1111","#F5A31C","#0000CC","#A9D4DC"]},"legend":{"orient":"none","legendX":464,"legendY":28,"title":"RSqr","symbolType":"square","symbolSize":72,"symbolStrokeColor":"#222","symbolStrokeWidth":1,"labelFontSize":11,"titleFontSize":11,"titleFontWeight":"normal","titleColor":"#333","labelColor":"#333","rowPadding":2,"labelOffset":5,"titlePadding":5,"titleAnchor":"middle"}}},"layer":[
{"data":{"name":"bL"},"mark":{"type":"circle","size":36,"opacity":1,"stroke":"#111","strokeWidth":1.1}},
{"data":{"name":"bB"},"mark":{"type":"circle","size":52,"opacity":1,"stroke":"#111","strokeWidth":1},"encoding":{"color":{"datum":"0.2 - 0.5"}}},
{"data":{"name":"bO"},"mark":{"type":"circle","size":52,"opacity":1,"stroke":"#222","strokeWidth":1},"encoding":{"color":{"datum":"0.5 - 0.8"}}},
{"data":{"name":"bR"},"mark":{"type":"circle","size":52,"opacity":1,"stroke":"#222","strokeWidth":1},"encoding":{"color":{"datum":">= 0.8"}}},
{"data":{"name":"bR"},"mark":{"type":"text","align":"left","dx":9,"fontSize":9,"color":"#222"},"encoding":{"text":{"field":"id"},"color":{"value":"#222"}}},
{"data":{"values":[{"label":"B","x":27.85,"y":24.48}]},"mark":{"type":"text","align":"left","baseline":"middle","fontSize":46,"fontWeight":"bold"},"encoding":{"text":{"field":"label"},"color":{"value":"black"}}}
]},
{"width":556,"height":245,"view":{"stroke":null},"data":{"name":"genes"},"encoding":{"x":{"field":"s","type":"quantitative","scale":{"domain":[28.797,34.238],"nice":false,"zero":false},"axis":null}},"layer":[
{"mark":{"type":"rect","color":"#33339A"},"encoding":{"x2":{"field":"e"},"y":{"field":"t","type":"quantitative","scale":{"domain":[0,245],"reverse":true,"nice":false},"axis":null},"y2":{"field":"b"}}},
{"mark":{"type":"text","align":"right","dx":-15,"fontSize":13.2,"fontWeight":"bold","color":"#33339A"},"encoding":{"y":{"field":"m","type":"quantitative","scale":{"domain":[0,245],"reverse":true,"nice":false},"axis":null},"text":{"field":"g"}}}
]},
{"width":556,"height":498,"view":{"stroke":"#555","strokeWidth":1.6},"encoding":{"x":{"field":"x","type":"quantitative","scale":{"domain":[28.797,34.238],"nice":false,"zero":false},"axis":{"values":[29,30,31,32,33,34],"labelExpr":"format(datum.value/10,'.1f')+'e+07'","labelPadding":11,"title":"Chromosome 6 position","titleY":69,"titleBaseline":"middle"}},"y":{"field":"y","type":"quantitative","scale":{"domain":[-0.328,8.28],"nice":false,"zero":false},"axis":{"values":[0,2,4,6,8],"labelAngle":-90,"labelAlign":"center","labelBaseline":"bottom","labelPadding":10,"title":"−log₁₀(P − value)","titleX":-69,"titleBaseline":"middle"}},"color":{"datum":"< 0.2","scale":{"domain":[">= 0.8","0.5 - 0.8","0.2 - 0.5","< 0.2"],"range":["#DD1111","#F5A31C","#0000CC","#A9D4DC"]},"legend":{"orient":"none","legendX":464,"legendY":28,"title":"RSqr","symbolType":"square","symbolSize":72,"symbolStrokeColor":"#222","symbolStrokeWidth":1,"labelFontSize":11,"titleFontSize":11,"titleFontWeight":"normal","titleColor":"#333","labelColor":"#333","rowPadding":2,"labelOffset":5,"titlePadding":5,"titleAnchor":"middle"}}},"layer":[
{"data":{"name":"cL"},"mark":{"type":"circle","size":36,"opacity":1,"stroke":"#111","strokeWidth":1.1}},
{"data":{"name":"cB"},"mark":{"type":"circle","size":52,"opacity":1,"stroke":"#111","strokeWidth":1},"encoding":{"color":{"datum":"0.2 - 0.5"}}},
{"data":{"name":"cO"},"mark":{"type":"circle","size":52,"opacity":1,"stroke":"#222","strokeWidth":1},"encoding":{"color":{"datum":"0.5 - 0.8"}}},
{"data":{"name":"cR"},"mark":{"type":"circle","size":52,"opacity":1,"stroke":"#222","strokeWidth":1},"encoding":{"color":{"datum":">= 0.8"}}},
{"data":{"name":"cR"},"mark":{"type":"text","align":"left","dx":10,"fontSize":9,"color":"#222"},"encoding":{"text":{"field":"id"},"color":{"value":"#222"}}},
{"data":{"values":[{"label":"C","x":27.85,"y":8.17}]},"mark":{"type":"text","align":"left","baseline":"middle","fontSize":46,"fontWeight":"bold"},"encoding":{"text":{"field":"label"},"color":{"value":"black"}}}
]},
{"width":556,"height":200,"view":{"stroke":null},"data":{"name":"genes"},"encoding":{"x":{"field":"s","type":"quantitative","scale":{"domain":[28.797,34.238],"nice":false,"zero":false},"axis":null}},"layer":[
{"mark":{"type":"rect","color":"#33339A"},"encoding":{"x2":{"field":"e"},"y":{"field":"t","type":"quantitative","scale":{"domain":[0,200],"reverse":true,"nice":false},"axis":null},"y2":{"field":"b"}}},
{"mark":{"type":"text","align":"right","dx":-15,"fontSize":13.2,"fontWeight":"bold","color":"#33339A"},"encoding":{"y":{"field":"m","type":"quantitative","scale":{"domain":[0,200],"reverse":true,"nice":false},"axis":null},"text":{"field":"g"}}}
]}
]}
